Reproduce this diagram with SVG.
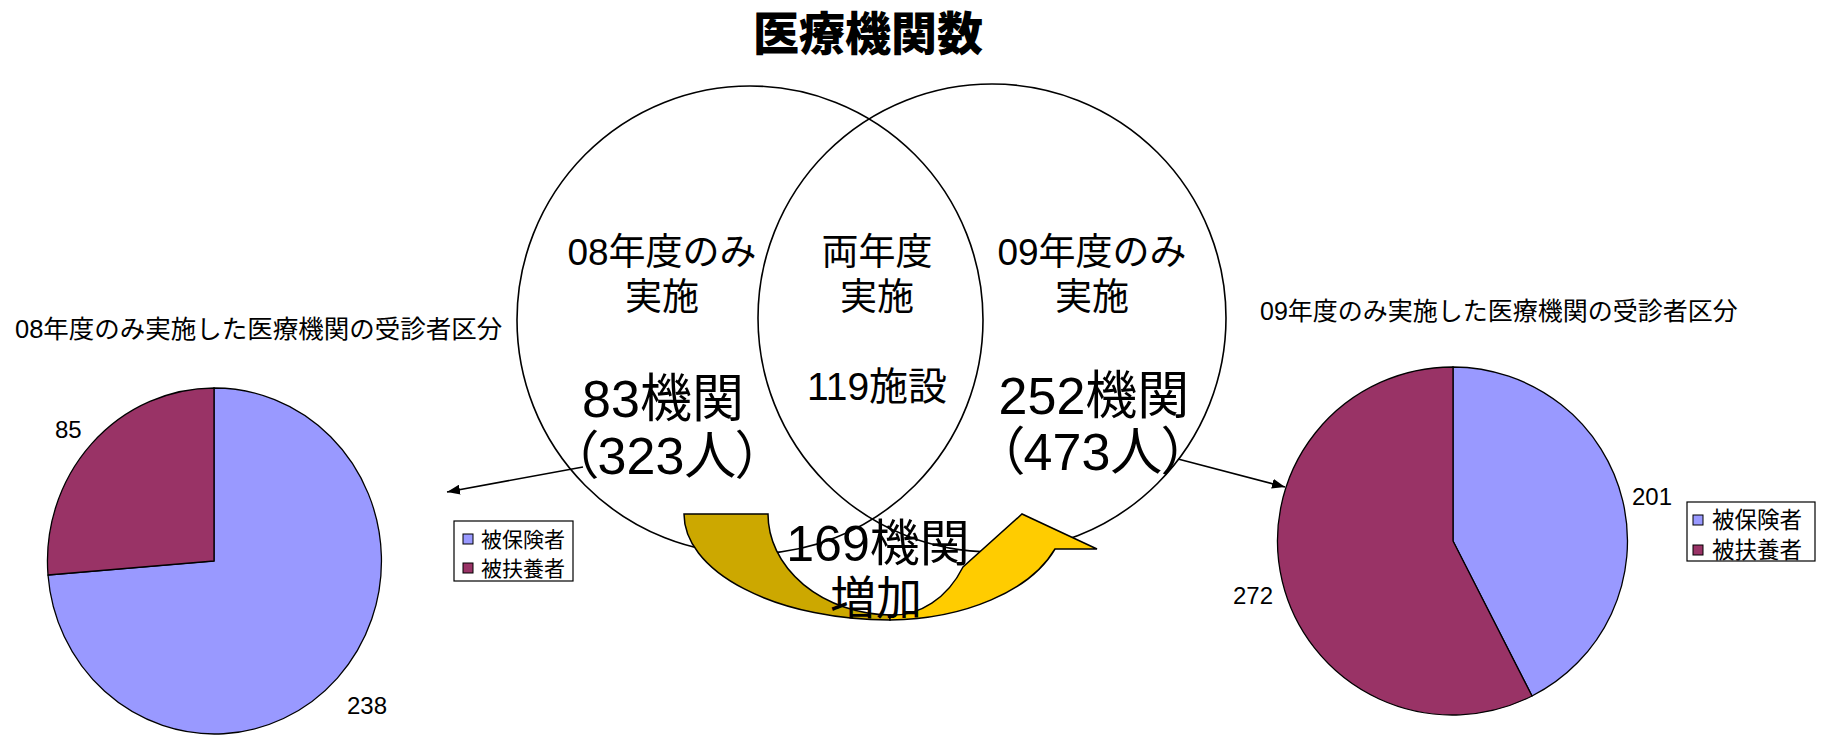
<svg xmlns="http://www.w3.org/2000/svg" width="1821" height="736" viewBox="0 0 1821 736">
<defs>
<style>
text{font-family:"Liberation Sans","Noto Sans CJK JP",sans-serif;fill:#000}
.jp{font-family:"Noto Sans CJK JP","Liberation Sans",sans-serif}
.mix{font-family:"Liberation Sans","Noto Sans CJK JP",sans-serif}
.c{text-anchor:middle}
.venn{fill:none;stroke:#000;stroke-width:1.6}
.pie{stroke:#000;stroke-width:1.3}
.blue{fill:#9999FF}
.red{fill:#993366}
.conn{stroke:#000;stroke-width:1.6;fill:none}
.palt{font-feature-settings:"palt"}
</style>
<marker id="ah" viewBox="0 0 10 10" refX="10" refY="5" markerWidth="13" markerHeight="10" markerUnits="userSpaceOnUse" orient="auto" preserveAspectRatio="none">
<path d="M0,0 L10,5 L0,10 Z" fill="#000"/>
</marker>
</defs>
<rect width="1821" height="736" fill="#fff"/>

<g id="title">
<text class="c jp" x="868" y="50" font-size="46" font-weight="900">医療機関数</text>
</g>

<g id="venn-left">
<ellipse class="venn" cx="750" cy="320" rx="233" ry="234"/>
</g>
<g id="venn-right">
<ellipse class="venn" cx="992" cy="318" rx="234" ry="234"/>
</g>

<g id="increase-arrow">
<path d="M684,514 L768,514 A125,101 0 0 0 890,615 L890,620 A206,106 0 0 1 684,514 Z" fill="#CCA800" stroke="#000" stroke-width="1.5"/>
<path d="M890,620 A178,106 0 0 0 1055,549 L1097,549 L1022,514 L963,567 A82,101 0 0 1 890,615 Z" fill="#FFCC00" stroke="#000" stroke-width="1.5"/>
</g>

<g id="label-08only">
<text class="c mix" x="662" y="265" font-size="37">08年度のみ</text>
<text class="c mix" x="662" y="310" font-size="37">実施</text>
<text class="c mix" x="663" y="417" font-size="52">83機関</text>
<text class="c mix palt" x="667" y="474" font-size="52">（323人）</text>
</g>
<g id="label-both">
<text class="c mix" x="877" y="265" font-size="37">両年度</text>
<text class="c mix" x="877" y="310" font-size="37">実施</text>
<text class="c mix" x="877" y="400" font-size="39">119施設</text>
</g>
<g id="label-09only">
<text class="c mix" x="1092" y="265" font-size="37">09年度のみ</text>
<text class="c mix" x="1092" y="310" font-size="37">実施</text>
<text class="c mix" x="1094" y="414" font-size="52">252機関</text>
<text class="c mix palt" x="1093" y="470" font-size="52">（473人）</text>
</g>
<g id="label-increase">
<text class="c mix" x="878" y="561" font-size="50">169機関</text>
<text class="c mix" x="876" y="614" font-size="46">増加</text>
</g>

<g id="connectors">
<line class="conn" x1="583" y1="467" x2="447" y2="492" marker-end="url(#ah)"/>
<line class="conn" x1="1178" y1="459" x2="1285" y2="487" marker-end="url(#ah)"/>
</g>

<g id="pie-08">
<text class="mix" x="15" y="338" font-size="25.5">08年度のみ実施した医療機関の受診者区分</text>
<path class="pie blue" d="M214,561 L214,388 A167,173 0 1 1 48,575 Z"/>
<path class="pie red" d="M214,561 L48,575 A167,173 0 0 1 214,388 Z"/>
<text class="mix" x="55" y="438" font-size="24">85</text>
<text class="mix" x="347" y="714" font-size="24">238</text>
</g>
<g id="legend-08">
<rect x="454" y="521" width="119" height="60" fill="#fff" stroke="#000" stroke-width="1.2"/>
<rect class="blue" x="463" y="534" width="10" height="10" stroke="#000" stroke-width="1"/>
<rect class="red" x="463" y="563" width="10" height="10" stroke="#000" stroke-width="1"/>
<text class="jp" x="481" y="547" font-size="21">被保険者</text>
<text class="jp" x="481" y="576" font-size="21">被扶養者</text>
</g>

<g id="pie-09">
<text class="mix" x="1260" y="320" font-size="25">09年度のみ実施した医療機関の受診者区分</text>
<path class="pie blue" d="M1453,541 L1453,367 A175,174 0 0 1 1532,696 Z"/>
<path class="pie red" d="M1453,541 L1532,696 A175,174 0 1 1 1453,367 Z"/>
<text class="mix" x="1632" y="505" font-size="24">201</text>
<text class="mix" x="1233" y="604" font-size="24">272</text>
</g>
<g id="legend-09">
<rect x="1687" y="502" width="128" height="59" fill="#fff" stroke="#000" stroke-width="1.2"/>
<rect class="blue" x="1693" y="515" width="10" height="10" stroke="#000" stroke-width="1"/>
<rect class="red" x="1693" y="545" width="10" height="10" stroke="#000" stroke-width="1"/>
<text class="jp" x="1712" y="528" font-size="22.5">被保険者</text>
<text class="jp" x="1712" y="558" font-size="22.5">被扶養者</text>
</g>
</svg>
